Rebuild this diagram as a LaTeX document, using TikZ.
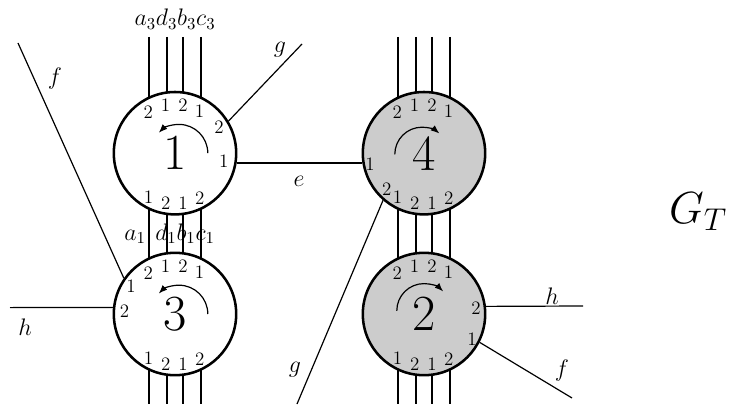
\documentclass[tikz,border=0pt]{standalone}
\usepackage{fix-cm}
\usetikzlibrary{arrows.meta, calc, backgrounds}

\tikzset{
  vtx/.style={circle, draw, line width=1.8pt, fill=white, minimum size=3.06cm, inner sep=0pt, font=\fontsize{36}{40}\selectfont},
  gvtx/.style={vtx, fill=black!20},
  port/.style={inner sep=0pt, font=\fontsize{13.5}{15}\selectfont},
  lbl/.style={inner sep=0pt, font=\fontsize{17}{20}\selectfont},
  wire/.style={line width=0.85pt},
  turn/.style={line width=0.85pt, -{Latex[length=2.2mm]}}
}

\begin{document}
\begin{tikzpicture}
  \useasboundingbox (0,0) rectangle (18.25,10.1);

  % the four vertices
  \node[vtx] (v1) at (4.375,6.27) {1};
  \node[vtx] (v3) at (4.375,2.25) {3};
  \node[gvtx] (v4) at (10.6,6.27) {4};
  \node[gvtx] (v2) at (10.6,2.25) {2};

  % bundles of four lines through each column
  \begin{scope}[on background layer]
    \foreach \dx in {-0.65,-0.2,0.2,0.65} {
      \draw[wire] ($(v1)+(\dx,2.905)$) -- ($(v3)+(\dx,-2.25)$);
      \draw[wire] ($(v4)+(\dx,2.905)$) -- ($(v2)+(\dx,-2.25)$);
    }
  \end{scope}

  % free ends
  \coordinate (gt) at (7.55,9.0);
  \coordinate (gb) at (7.425,0);
  \coordinate (ft) at (0.45,9.025);
  \coordinate (fr) at (14.3,0.15);
  \coordinate (hl) at (0.25,2.41);
  \coordinate (hr) at (14.575,2.45);

  % edges
  \draw[wire] (v1.-9) -- (v4.189);
  \draw[wire] (v1.31) -- (gt);
  \draw[wire] (v4.229) -- (gb);
  \draw[wire] (v3.145) -- (ft);
  \draw[wire] (v3.174) -- (hl);
  \draw[wire] (v2.7.5) -- (hr);
  \draw[wire] (v2.-27) -- (fr);

  % edge labels
  \node[lbl] (le) at (7.475,5.575) {$e$};
  \node[lbl] (lgt) at (7.0,8.85) {$g$};
  \node[lbl] (lgb) at (7.375,0.85) {$g$};
  \node[lbl] (lft) at (1.375,8.125) {$f$};
  \node[lbl] (lfr) at (14.05,0.825) {$f$};
  \node[lbl] (lhl) at (0.625,1.925) {$h$};
  \node[lbl] (lhr) at (13.8,2.7) {$h$};
  \node[lbl, anchor=base] (lt) at ($(v1)+(0,3.18)$) {$a_3d_3b_3c_3$};
  \node[lbl, anchor=base] (la1) at (3.375,4.1) {$a_1$};
  \node[lbl, anchor=base] (ldbc) at (4.625,4.1) {$d_1b_1c_1$};
  \node[inner sep=0pt, font=\fontsize{32}{36}\selectfont] (gT) at (17.45,4.8) {$G_T$};

  % port numbers on top and bottom of every vertex
  \foreach \v in {v1,v3,v4,v2} {
    \foreach \dx/\dy/\t [count=\i] in {-0.67/1.02/2, -0.24/1.19/1, 0.2/1.19/2, 0.61/1.04/1}
      \node[port] (\v t\i) at ($(\v)+(\dx,\dy)$) {\t};
    \foreach \dx/\dy/\t [count=\i] in {-0.66/-1.1/1, -0.23/-1.26/2, 0.2/-1.26/1, 0.62/-1.12/2}
      \node[port] (\v b\i) at ($(\v)+(\dx,\dy)$) {\t};
  }
  % side ports
  \node[port] (v1g) at ($(v1)+(1.1,0.64)$) {2};
  \node[port] (v1e) at ($(v1)+(1.22,-0.19)$) {1};
  \node[port] (v3f) at ($(v3)+(-1.1,0.69)$) {1};
  \node[port] (v3h) at ($(v3)+(-1.26,0.06)$) {2};
  \node[port] (v4e) at ($(v4)+(-1.35,-0.27)$) {1};
  \node[port] (v4g) at ($(v4)+(-0.93,-0.9)$) {2};
  \node[port] (v2h) at ($(v2)+(1.3,0.15)$) {2};
  \node[port] (v2f) at ($(v2)+(1.2,-0.63)$) {1};

  % rotations
  \draw[turn] ($(v1)+(0.82,0)$) arc[start angle=0, end angle=135, radius=0.72];
  \draw[turn] ($(v3)+(0.82,0)$) arc[start angle=0, end angle=135, radius=0.72];
  \draw[turn] ($(v4)+(-0.73,-0.03)$) arc[start angle=180, end angle=50, radius=0.68];
  \draw[turn] ($(v2)+(-0.68,0.08)$) arc[start angle=180, end angle=45, radius=0.68];
\end{tikzpicture}
\end{document}
